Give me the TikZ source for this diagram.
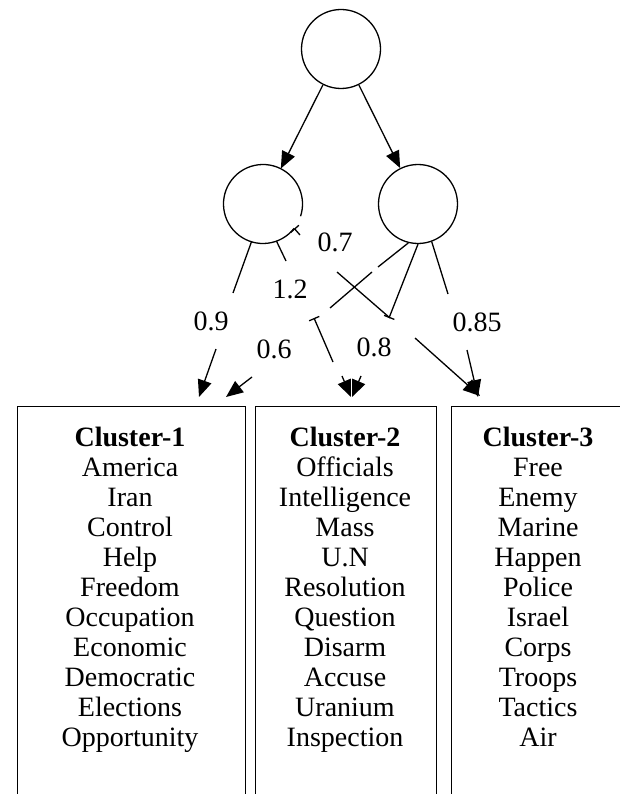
\documentclass[tikz,border=0pt]{standalone}
\usepackage{fontspec}
\setmainfont{Liberation Serif}
\usetikzlibrary{arrows.meta}
\begin{document}
\begin{tikzpicture}[x=1pt,y=-1pt,
  edge/.style={line width=1.3pt},
  arrowed/.style={edge,-{Triangle[length=17pt,width=14pt]}},
  teestart/.style={edge,{Bar[width=11pt]}-},
  teeend/.style={edge,-{Bar[width=11pt]}},
  vertex/.style={circle,draw,line width=1.3pt,minimum size=79pt,inner sep=0pt},
  bare/.style={circle,minimum size=79pt,inner sep=0pt},
  clusterbox/.style={draw,line width=1.3pt,anchor=north west,minimum height=430pt,inner sep=0pt},
  weight/.style={font=\fontsize{28}{30}\selectfont,inner sep=0pt},
  word/.style={font=\fontsize{28}{30}\selectfont,anchor=base,inner sep=0pt},
  head/.style={word,font=\fontsize{28}{30}\selectfont\bfseries},
]
\useasboundingbox (0,0) rectangle (620,794);
\clip (0,0) rectangle (620,794);

% tree nodes
\node[vertex] (top) at (341,49) {};
\node[bare] (L) at (263,204) {};
\node[vertex] (R) at (418,204) {};
% left node outline, open on its lower right side
\draw[edge] ([shift={(38:39.5)}]L.center) arc[start angle=38,end angle=378,radius=39.5];

% cluster boxes
\node[clusterbox,minimum width=228pt] (box1) at (17,406) {};
\node[clusterbox,minimum width=181pt] (box2) at (255,406) {};
\node[clusterbox,minimum width=180pt] (box3) at (451,406) {};

% word lists
\node[head] (h1) at (130,446) {Cluster-1};
\foreach \w [count=\i] in {America,Iran,Control,Help,Freedom,Occupation,Economic,Democratic,Elections,Opportunity}
  \node[word] (wa\i) at (130,446+30*\i) {\w};
\node[head] (h2) at (345,446) {Cluster-2};
\foreach \w [count=\i] in {Officials,Intelligence,Mass,U.N,Resolution,Question,Disarm,Accuse,Uranium,Inspection}
  \node[word] (wb\i) at (345,446+30*\i) {\w};
\node[head] (h3) at (538,446) {Cluster-3};
\foreach \w [count=\i] in {Free,Enemy,Marine,Happen,Police,Israel,Corps,Troops,Tactics,Air}
  \node[word] (wc\i) at (538,446+30*\i) {\w};

% edge weights
\node[weight] (w09) at (211,321) {0.9};
\node[weight] (w12) at (290,289) {1.2};
\node[weight] (w06) at (274,349) {0.6};
\node[weight] (w07) at (335,242) {0.7};
\node[weight] (w08) at (374,347) {0.8};
\node[weight] (w085) at (477,322) {0.85};

% break points of the weighted edges
\coordinate (e1a) at (233,293);
\coordinate (e1b) at (216,349);
\coordinate (t1) at (199,397);
\coordinate (e2a) at (286,261);
\coordinate (e2b) at (314,318);
\coordinate (e2c) at (333,362);
\coordinate (e2d) at (342,376);
\coordinate (t2) at (351,397);
\coordinate (e3s) at (300,235);
\coordinate (e3a) at (337,272);
\coordinate (e3b) at (390,318);
\coordinate (e3c) at (415,338);
\coordinate (t3) at (480,396);
\coordinate (e4a) at (378,267);
\coordinate (e4b) at (372,272);
\coordinate (e4c) at (330,308);
\coordinate (e4d) at (252,377);
\coordinate (t4) at (226,397);
\coordinate (e5a) at (389,318);
\coordinate (e5d) at (361,376);
\coordinate (t5) at (352,397);
\coordinate (e6a) at (448,294);
\coordinate (e6b) at (467,350);
\coordinate (t6) at (478,397);

% root to children
\draw[arrowed] (top) -- (L);
\draw[arrowed] (top) -- (R);

% left child: 0.9 to Cluster-1
\draw[edge] (L.-107) -- (e1a);
\draw[arrowed] (e1b) -- (t1);
% left child: 1.2 to Cluster-2
\draw[edge] (L.-70) -- (e2a);
\draw[teestart] (e2b) -- (e2c);
\draw[arrowed] (e2d) -- (t2);
% left child: 0.7 to Cluster-3
\draw[teestart] (L.-38) -- (e3s);
\draw[edge] (e3a) -- (e3b);
\draw[arrowed] (e3c) -- (t3);
% right child: 0.6 to Cluster-1
\draw[edge] (R.-104) -- (e4a);
\draw[edge] (e4b) -- (e4c);
\draw[arrowed] (e4d) -- (t4);
% right child: 0.8 to Cluster-2
\draw[teeend] (R.south) -- (e5a);
\draw[arrowed] (e5d) -- (t5);
% right child: 0.85 to Cluster-3
\draw[edge] (R.-70) -- (e6a);
\draw[arrowed] (e6b) -- (t6);
\end{tikzpicture}
\end{document}
